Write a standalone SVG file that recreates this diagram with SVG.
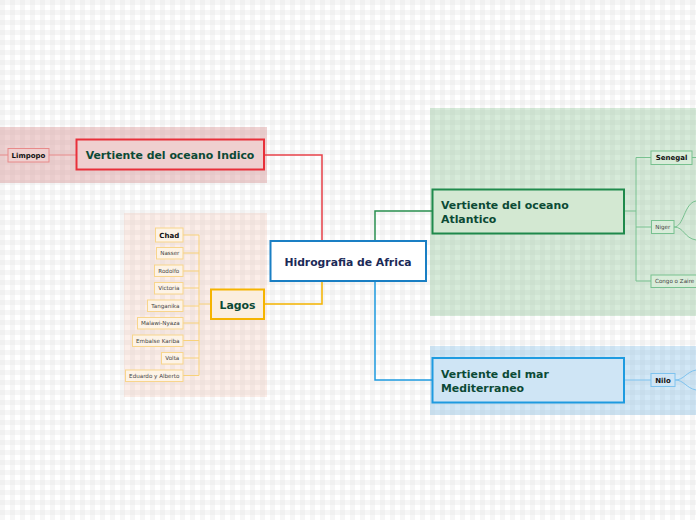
<svg xmlns="http://www.w3.org/2000/svg" width="696" height="520" viewBox="0 0 696 520">
<defs>
<pattern id="plaid" x="0" y="0" width="10" height="10" patternUnits="userSpaceOnUse">
<rect width="10" height="10" fill="#ffffff"/>
<rect x="0" y="0" width="5" height="10" fill="#f6f6f6"/>
<rect x="0" y="0" width="10" height="5" fill="#f6f6f6"/>
<rect x="0" y="0" width="5" height="5" fill="#f0f0f0"/>
</pattern>
<style>
.main{font-family:"DejaVu Sans",Verdana,sans-serif;font-weight:bold;font-size:10.9px;fill:#0b4a35}
.center{font-family:"DejaVu Sans",Verdana,sans-serif;font-weight:bold;font-size:10.8px;fill:#1b2a57}
.sub{font-family:"DejaVu Sans",Verdana,sans-serif;font-weight:bold;font-size:7px;fill:#111}
.leaf{font-family:"DejaVu Sans",Verdana,sans-serif;font-size:5.6px;fill:#444}
.lbox{fill:#fdf3e6;stroke:#f8d58c;stroke-width:1}
.gbox{fill:#d8ecd9;stroke:#78c190;stroke-width:1}
.c{fill:none}
</style>
</defs>
<rect width="696" height="520" fill="url(#plaid)"/>
<g id="regions">
<rect x="0" y="127" width="267" height="56" fill="#d88f8f" opacity="0.4"/>
<rect x="124" y="213" width="143" height="184" fill="#f0a890" opacity="0.2"/>
<rect x="430" y="108" width="266" height="208" fill="#5fb06a" opacity="0.25"/>
<rect x="430" y="346" width="266" height="69" fill="#4aa3e0" opacity="0.25"/>
</g>
<g id="connectors" class="c">
<path d="M322 241 V155 H264" stroke="#e8414a" stroke-width="1.5"/>
<path d="M322 281 V304 H264" stroke="#f5b400" stroke-width="1.5"/>
<path d="M375 241 V211 H432" stroke="#2a9050" stroke-width="1.5"/>
<path d="M375 281 V380 H432" stroke="#1e9be0" stroke-width="1.5"/>
<path d="M76 155 H49 M8 155 H0" stroke="#e88a8a" stroke-width="1"/>
<path d="M211 304 H199 M199 235 V375.5 M183 235 H199 M183 253 H199 M183 271 H199 M183 288 H199 M183 306 H199 M183 323 H199 M183 340.5 H199 M183 358 H199 M183 375.5 H199" stroke="#f8d27a" stroke-width="1"/>
<path d="M624 211 H636 M636 157.5 V281 M636 157.5 H651 M636 227 H651 M636 281 H651 M692 157.5 H696" stroke="#78c190" stroke-width="1"/>
<path d="M674 227 C684 227 684 203 696 201 M674 227 C684 227 684 238 696 240" stroke="#78c190" stroke-width="1"/>
<path d="M624 380 H651 M675 380 C684 380 686 372 696 370 M675 380 C684 380 686 388 696 390" stroke="#7ec3ef" stroke-width="1"/>
</g>
<g id="center">
<rect x="270.5" y="241" width="155.5" height="40" fill="#ffffff" stroke="#1a7fc4" stroke-width="2"/>
<text class="center" x="348" y="265.8" text-anchor="middle">Hidrografia de Africa</text>
</g>
<g id="indico">
<rect x="76.5" y="139.5" width="187.5" height="30" fill="#efcfcf" stroke="#e8303a" stroke-width="2"/>
<text class="main" x="170" y="158.8" text-anchor="middle">Vertiente del oceano Indico</text>
</g>
<g id="limpopo">
<rect x="8" y="148.5" width="41" height="13.5" fill="#efcfcf" stroke="#e88a8a" stroke-width="1"/>
<text class="sub" x="28.5" y="157.7" text-anchor="middle">Limpopo</text>
</g>
<g id="lagos">
<rect x="211" y="289.5" width="53" height="29.5" fill="#fbeede" stroke="#f5b400" stroke-width="2"/>
<text class="main" x="237.5" y="308.5" text-anchor="middle">Lagos</text>
</g>
<g id="chad"><rect class="lbox" x="155.5" y="228" width="27.5" height="14"/><text class="sub" x="169.3" y="237.7" text-anchor="middle">Chad</text></g>
<g id="nasser"><rect class="lbox" x="156.5" y="247.5" width="26.5" height="11.5"/><text class="leaf" x="169.8" y="255.2" text-anchor="middle">Nasser</text></g>
<g id="rodolfo"><rect class="lbox" x="154.5" y="265" width="28.5" height="11.5"/><text class="leaf" x="168.8" y="272.7" text-anchor="middle">Rodolfo</text></g>
<g id="victoria"><rect class="lbox" x="154.5" y="282.5" width="28.5" height="11.5"/><text class="leaf" x="168.8" y="290.2" text-anchor="middle">Victoria</text></g>
<g id="tanganika"><rect class="lbox" x="147.5" y="300" width="35.5" height="11.5"/><text class="leaf" x="165.3" y="307.7" text-anchor="middle">Tanganika</text></g>
<g id="malawi"><rect class="lbox" x="137.5" y="317.5" width="45.5" height="11.5"/><text class="leaf" x="160.3" y="325.2" text-anchor="middle">Malawi-Nyaza</text></g>
<g id="kariba"><rect class="lbox" x="132.5" y="335" width="50.5" height="11.5"/><text class="leaf" x="157.8" y="342.7" text-anchor="middle">Embalse Kariba</text></g>
<g id="volta"><rect class="lbox" x="161.5" y="352.5" width="21.5" height="11.5"/><text class="leaf" x="172.3" y="360.2" text-anchor="middle">Volta</text></g>
<g id="eduardo"><rect class="lbox" x="125.5" y="370" width="57.5" height="11.5"/><text class="leaf" x="154.3" y="377.7" text-anchor="middle">Eduardo y Alberto</text></g>
<g id="atlantico">
<rect x="432.5" y="189.5" width="191.5" height="44" fill="#d3e8d2" stroke="#1f8a4c" stroke-width="2"/>
<text class="main" x="441" y="209.3">Vertiente del oceano</text>
<text class="main" x="441" y="223.3">Atlantico</text>
</g>
<g id="senegal"><rect class="gbox" x="651" y="151" width="41" height="13.5"/><text class="sub" x="671.5" y="160.2" text-anchor="middle">Senegal</text></g>
<g id="niger"><rect class="gbox" x="651.5" y="220.5" width="22.5" height="13"/><text class="leaf" x="662.8" y="229" text-anchor="middle">Niger</text></g>
<g id="congo"><rect class="gbox" x="651" y="275" width="47" height="12.5"/><text class="leaf" x="655" y="283.2">Congo o Zaire</text></g>
<g id="mediterraneo">
<rect x="432.5" y="358" width="191.5" height="44.5" fill="#cfe5f5" stroke="#1e9be0" stroke-width="2"/>
<text class="main" x="441" y="378.3">Vertiente del mar</text>
<text class="main" x="441" y="392.3">Mediterraneo</text>
</g>
<g id="nilo"><rect x="651" y="373.5" width="24" height="13" fill="#cfe5f5" stroke="#7ec3ef" stroke-width="1"/><text class="sub" x="663" y="382.5" text-anchor="middle">Nilo</text></g>
</svg>
